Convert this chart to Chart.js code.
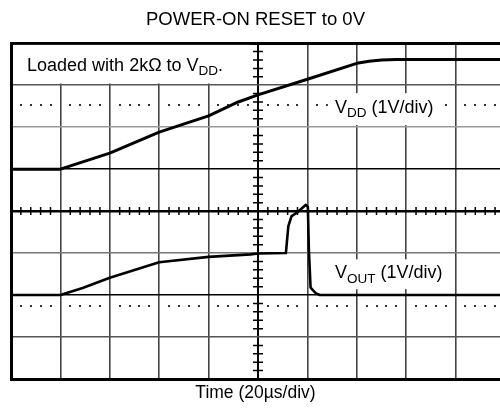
<!DOCTYPE html>
<html>
<head>
<meta charset="utf-8">
<script src="https://cdn.jsdelivr.net/npm/chart.js@4/dist/chart.umd.min.js"></script>
<style>
  html, body { margin: 0; padding: 0; background: #fff; }
  canvas { display: block; }
</style>
</head>
<body>
<canvas id="scope" width="500" height="414"></canvas>
<script>
// Time base: 20 µs per division, 10 divisions across the screen
const divTimesUs = [0, 20, 40, 60, 80, 100, 120, 140, 160, 180, 200];

// Supply trace, volts above its own ground marker (1 V/div)
const vddTimeUs = [0, 20, 40, 60, 80, 92, 100, 120, 140, 145, 150, 156, 200];
const vddVolts  = [0, 0, 0.38, 0.88, 1.27, 1.60, 1.77, 2.14, 2.52, 2.57, 2.60, 2.61, 2.61];

// Output trace, volts above its own ground marker (1 V/div)
const voutTimeUs = [0, 20, 29, 40, 60, 80, 97, 100, 111.3, 112.3, 113.6, 115.7, 117.7, 119.4, 120.2, 120.6, 121.3, 122.3, 123.5, 125, 200];
const voutVolts  = [0, 0, 0.17, 0.41, 0.78, 0.91, 0.97, 0.99, 1.0, 1.64, 1.88, 1.96, 2.06, 2.15, 2.10, 1.09, 0.18, 0.11, 0.04, 0, 0];

// Vertical divisions where each channel's ground sits
const vddGroundDiv = 5;
const voutGroundDiv = 2;

const FONT = "'Liberation Sans', Arial, Helvetica, sans-serif";

const toPoints = (ts, vs, ground) => ts.map((t, i) => ({ x: t, y: vs[i] + ground }));

// Grid shading per horizontal division line
const hLineColor = { 1: '#555', 2: '#000', 3: '#777', 4: '#000', 5: '#000', 6: '#9a9a9a', 7: '#555' };

function drawRich(ctx, parts, x, y) {
  for (const [txt, sub] of parts) {
    ctx.font = (sub ? '13.5px ' : '18px ') + FONT;
    ctx.fillText(txt, x, sub ? y + 4.5 : y);
    x += ctx.measureText(txt).width;
  }
}

// Scope graticule details: centre-axis minor ticks, dotted marker rows, captions
const graticule = {
  id: 'graticule',
  beforeDatasetsDraw(chart) {
    const { ctx, chartArea: a, scales: { x, y } } = chart;
    ctx.save();
    const cx = x.getPixelForValue(100);
    const cy = y.getPixelForValue(4);
    ctx.strokeStyle = '#000';
    ctx.lineWidth = 1.5;
    ctx.beginPath();
    for (let i = 1; i < 50; i++) {
      if (i % 5 === 0) continue;
      const px = x.getPixelForValue(i * 4);
      if (px > a.right) break;
      ctx.moveTo(px, cy - 4); ctx.lineTo(px, cy + 4);
    }
    for (let i = 1; i < 40; i++) {
      if (i % 5 === 0) continue;
      const py = y.getPixelForValue(i / 5);
      ctx.moveTo(cx - 5, py); ctx.lineTo(cx + 5, py);
    }
    ctx.stroke();

    // dotted marker rows
    ctx.fillStyle = '#333';
    for (const row of [6.52, 1.73]) {
      const py = y.getPixelForValue(row);
      for (let i = 1; i < 50; i++) {
        if (i % 5 === 0) continue;
        const px = x.getPixelForValue(i * 4);
        if (px > a.right) break;
        ctx.fillRect(Math.round(px) - 1, Math.round(py) - 1, 2, 2);
      }
    }

    // caption backgrounds
    ctx.fillStyle = '#fff';
    const box = (t0, t1, d0, d1) => {
      const x0 = x.getPixelForValue(t0), x1 = x.getPixelForValue(t1);
      const y0 = y.getPixelForValue(d0), y1 = y.getPixelForValue(d1);
      ctx.fillRect(x0, y0, x1 - x0, y1 - y0);
    };
    box(1, 96.5, 7.96, 7.04);
    box(128.3, 174, 6.81, 6.05);
    box(129, 178.5, 2.85, 2.14);

    ctx.fillStyle = '#000';
    ctx.textBaseline = 'alphabetic';
    drawRich(ctx, [['Loaded with 2k\u03A9 to V', false], ['DD', true], ['.', false]],
      x.getPixelForValue(6.5), y.getPixelForValue(7.34));
    drawRich(ctx, [['V', false], ['DD', true], [' (1V/div)', false]],
      x.getPixelForValue(131.2), y.getPixelForValue(6.34));
    drawRich(ctx, [['V', false], ['OUT', true], [' (1V/div)', false]],
      x.getPixelForValue(131.2), y.getPixelForValue(2.4));
    ctx.restore();
  }
};

new Chart(document.getElementById('scope'), {
  type: 'line',
  data: {
    datasets: [
      {
        label: 'VDD',
        data: toPoints(vddTimeUs, vddVolts, vddGroundDiv),
        borderColor: '#000',
        borderWidth: 3,
        pointRadius: 0,
        tension: 0,
        borderJoinStyle: 'round'
      },
      {
        label: 'VOUT',
        data: toPoints(voutTimeUs, voutVolts, voutGroundDiv),
        borderColor: '#000',
        borderWidth: 2.6,
        pointRadius: 0,
        tension: 0,
        borderJoinStyle: 'round'
      }
    ]
  },
  options: {
    responsive: false,
    animation: false,
    layout: { padding: { left: 11, right: 0, top: 0, bottom: 0 } },
    plugins: {
      legend: { display: false },
      tooltip: { enabled: false },
      title: {
        display: true,
        text: 'POWER-ON RESET to 0V',
        color: '#000',
        font: { family: FONT, size: 18.5, weight: 'normal' },
        padding: { top: 9, bottom: 12 }
      }
    },
    scales: {
      x: {
        type: 'linear',
        min: divTimesUs[0],
        max: 198,
        ticks: { display: false, stepSize: 4 },
        grid: {
          drawTicks: false,
          color: c => {
            const v = c.tick.value;
            if (v === 0 || !divTimesUs.includes(v)) return 'transparent';
            return v === 100 ? '#000' : '#444';
          },
          lineWidth: c => (c.tick.value === 100 ? 2 : 1.6)
        },
        border: { color: '#000', width: 3 },
        title: {
          display: true,
          text: 'Time (20\u00B5s/div)',
          color: '#000',
          font: { family: FONT, size: 17.5, weight: 'normal' },
          padding: { top: 4, bottom: 10 }
        }
      },
      xTop: {
        type: 'linear',
        position: 'top',
        min: 0,
        max: 198,
        ticks: { display: false },
        grid: { display: false, drawTicks: false },
        border: { color: '#000', width: 3 }
      },
      y: {
        type: 'linear',
        min: 0,
        max: 8,
        ticks: { display: false, stepSize: 1 },
        grid: {
          drawTicks: false,
          color: c => hLineColor[c.tick.value] || 'transparent',
          lineWidth: c => (c.tick.value === 4 ? 2.5 : 1.5)
        },
        border: { color: '#000', width: 3 }
      }
    }
  },
  plugins: [graticule]
});
</script>
</body>
</html>
